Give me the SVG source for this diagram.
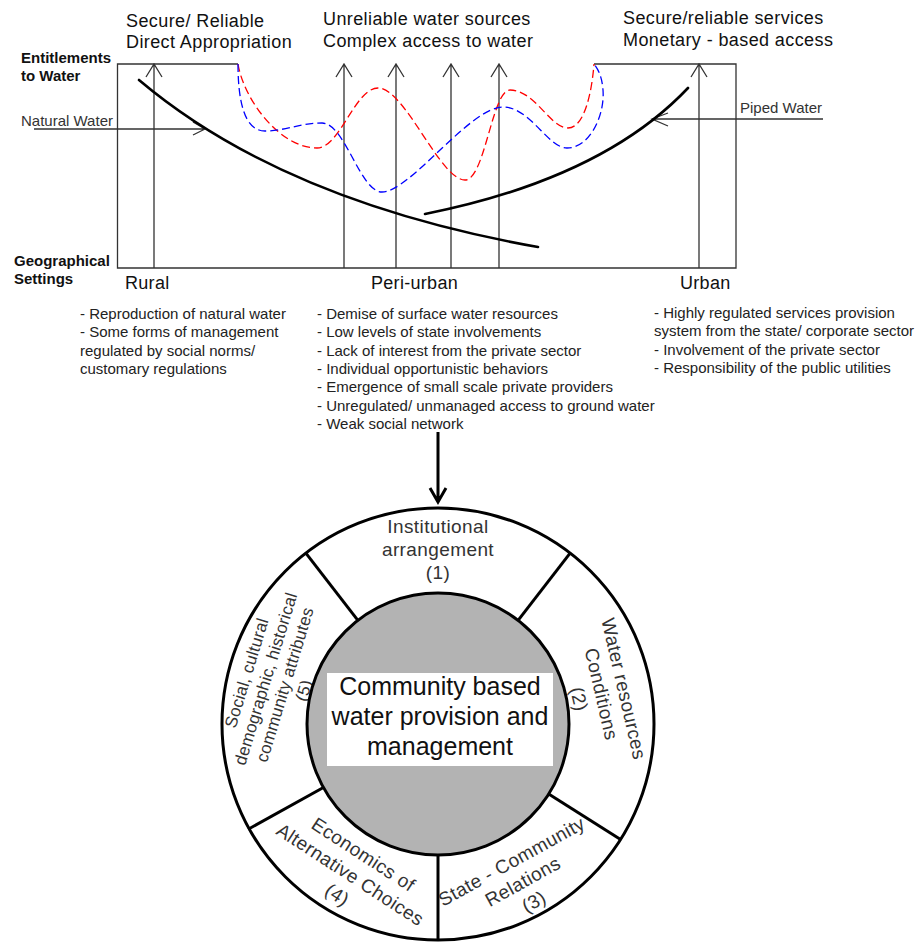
<svg xmlns="http://www.w3.org/2000/svg" width="924" height="943" viewBox="0 0 924 943">
<style>
text{font-family:"Liberation Sans",Arial,sans-serif;}
.head{font-size:18px;fill:#111;letter-spacing:0.4px;}
.axis{font-size:15px;font-weight:bold;fill:#111;}
.lbl{font-size:15px;fill:#333;}
.list{font-size:15px;fill:#222;}
.zone{font-size:18px;fill:#111;letter-spacing:0.3px;}
.sec{font-size:19px;fill:#333;letter-spacing:0.4px;text-anchor:middle;}
.sec5{font-size:17px;fill:#333;letter-spacing:0.2px;text-anchor:middle;}
.ctr{font-size:25px;fill:#111;text-anchor:middle;}
.ln{stroke:#333;stroke-width:1.3;fill:none;}
.curve{stroke:#000;stroke-width:2.6;fill:none;stroke-linecap:round;}
.dash{stroke-width:1.3;fill:none;stroke-dasharray:8 4;}
.div{stroke:#000;stroke-width:3;}
</style>

<g id="chart-frame">
<polyline class="ln" points="238,64 117.5,64 117.5,268 736,268 736,64 594,64"/>
</g>

<g id="connectors">
<!-- vertical entitlement arrows -->
<path class="ln" d="M154,268V64M146,77L154,64L162,77"/>
<path class="ln" d="M344,268V64M336,77L344,64L352,77"/>
<path class="ln" d="M396,268V64M388,77L396,64L404,77"/>
<path class="ln" d="M451,268V64M443,77L451,64L459,77"/>
<path class="ln" d="M499,268V64M491,77L499,64L507,77"/>
<path class="ln" d="M699,268V64M691,77L699,64L707,77"/>
<!-- natural water arrow -->
<path class="ln" d="M34,129H205M193,122L205,129L193,135"/>
<!-- piped water arrow -->
<path class="ln" d="M823,119H652M668,113L652,119L668,126"/>
<!-- curves -->
<path class="curve" d="M139,80C210,140 330,210 538,247"/>
<path class="curve" d="M425,214C520,195 620,160 688,88"/>
<path class="dash" stroke="#ff0000" d="M238,64C244,100 280,148 317,148C340,148 355,88 378,88C405,88 440,180 465,180C485,180 492,90 510,90C535,90 550,128 568,128C585,128 592,90 594,64"/>
<path class="dash" stroke="#0000ff" d="M238,64C238,100 244,131 265,131C285,131 300,123 322,123C345,123 360,192 382,192C410,192 470,107 503,107C530,107 548,148 567,148C590,148 605,115 603,90C602,75 597,68 594,64"/>
<!-- arrow to circle -->
<path d="M438,432V501M430,488L438,502L446,488" stroke="#000" stroke-width="3" fill="none"/>
</g>

<g id="headings">
<text class="head" x="126" y="27">Secure/ Reliable</text>
<text class="head" x="126" y="48">Direct Appropriation</text>
<text class="head" x="323" y="25">Unreliable water sources</text>
<text class="head" x="323" y="47">Complex access to water</text>
<text class="head" x="623" y="24">Secure/reliable services</text>
<text class="head" x="623" y="46">Monetary - based access</text>
</g>

<g id="axis-labels">
<text class="axis" x="21" y="63">Entitlements</text>
<text class="axis" x="21" y="81">to Water</text>
<text class="axis" x="14" y="266">Geographical</text>
<text class="axis" x="14" y="284">Settings</text>
<text class="lbl" x="21" y="126">Natural Water</text>
<text class="lbl" x="740" y="113">Piped Water</text>
<text class="zone" x="125" y="289">Rural</text>
<text class="zone" x="371" y="289">Peri-urban</text>
<text class="zone" x="680" y="289">Urban</text>
</g>

<g id="rural-list" class="list">
<text x="80" y="319">- Reproduction of natural water</text>
<text x="80" y="337">- Some forms of management</text>
<text x="80" y="356">regulated by social norms/</text>
<text x="80" y="374">customary regulations</text>
</g>

<g id="periurban-list" class="list">
<text x="317" y="319">- Demise of surface water resources</text>
<text x="317" y="337">- Low levels of state involvements</text>
<text x="317" y="356">- Lack of interest from the private sector</text>
<text x="317" y="374">- Individual opportunistic behaviors</text>
<text x="317" y="392">- Emergence of small scale private providers</text>
<text x="317" y="411">- Unregulated/ unmanaged access to ground water</text>
<text x="317" y="429">- Weak social network</text>
</g>

<g id="urban-list" class="list">
<text x="654" y="318">- Highly regulated services provision</text>
<text x="654" y="336">system from the state/ corporate sector</text>
<text x="654" y="355">- Involvement of the private sector</text>
<text x="654" y="373">- Responsibility of the public utilities</text>
</g>

<g id="ring">
<circle cx="438" cy="724" r="216" fill="#fff" stroke="#000" stroke-width="3"/>
<line class="div" x1="518.1" y1="620.4" x2="570.7" y2="552.3"/>
<line class="div" x1="357.9" y1="620.4" x2="305.3" y2="552.3"/>
<line class="div" x1="548.7" y1="794" x2="621.4" y2="840"/>
<line class="div" x1="438" y1="855" x2="438" y2="941"/>
<line class="div" x1="323.4" y1="787.5" x2="248.2" y2="829.2"/>
</g>

<g id="sector-1">
<text class="sec" x="438" y="533">Institutional</text>
<text class="sec" x="438" y="556">arrangement</text>
<text class="sec" x="438" y="579">(1)</text>
</g>

<g id="sector-2" transform="translate(601,694) rotate(77)">
<text class="sec" x="0" y="-17">Water resources</text>
<text class="sec" x="0" y="6">Conditions</text>
<text class="sec" x="0" y="29">(2)</text>
</g>

<g id="sector-3" transform="translate(523,882) rotate(-29)">
<text class="sec" x="0" y="-17">State - Community</text>
<text class="sec" x="0" y="6">Relations</text>
<text class="sec" x="0" y="29">(3)</text>
</g>

<g id="sector-4" transform="translate(350,875) rotate(33)">
<text class="sec" x="0" y="-18">Economics of</text>
<text class="sec" x="0" y="6">Alternative Choices</text>
<text class="sec" x="0" y="30">(4)</text>
</g>

<g id="sector-5" transform="translate(276,682) rotate(-73)">
<text class="sec5" x="0" y="-25">Social, cultural</text>
<text class="sec5" x="0" y="-5">demographic, historical</text>
<text class="sec5" x="0" y="15">community attributes</text>
<text class="sec5" x="0" y="35">(5)</text>
</g>

<g id="core">
<circle cx="438" cy="724" r="131" fill="#b3b3b3" stroke="#000" stroke-width="3"/>
<rect x="327" y="673" width="226" height="93" fill="#fff"/>
<text class="ctr" x="440" y="695">Community based</text>
<text class="ctr" x="440" y="725">water provision and</text>
<text class="ctr" x="440" y="755">management</text>
</g>
</svg>
